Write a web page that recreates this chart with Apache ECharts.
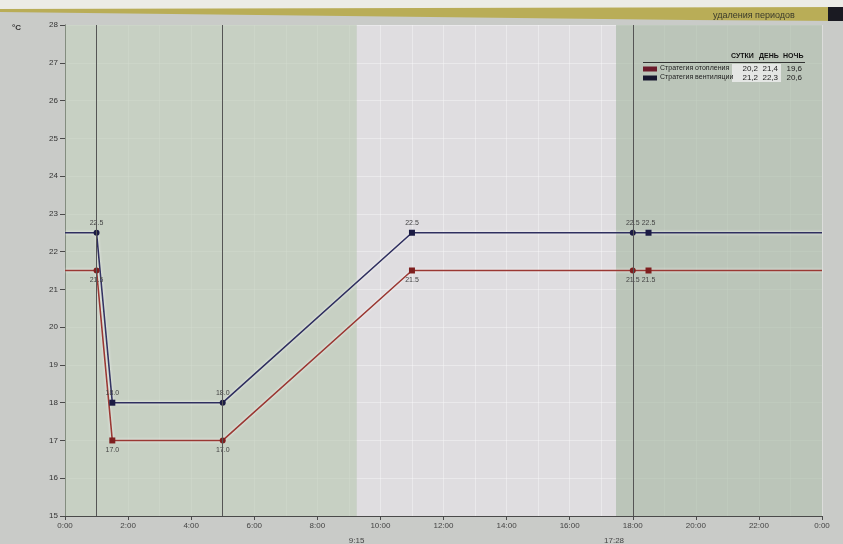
<!DOCTYPE html>
<html>
<head>
<meta charset="utf-8">
<script src="https://cdn.jsdelivr.net/npm/echarts@6/dist/echarts.min.js"></script>
<style>
html,body{margin:0;padding:0;background:#c9cbc8;}
#chart{width:843px;height:544px;}
</style>
</head>
<body>
<div id="chart"></div>
<script>
// ---- data ----
var hours = [0, 1, 1.5, 5, 11, 18, 18.5, 24];
var heating = [21.5, 21.5, 17.0, 17.0, 21.5, 21.5, 21.5, 21.5];
var ventilation = [22.5, 22.5, 18.0, 18.0, 22.5, 22.5, 22.5, 22.5];
var pointSymbols = ['none', 'circle', 'rect', 'circle', 'rect', 'circle', 'rect', 'none'];
var dayBand = [0, 9.25];
var eveningBand = [17.47, 24];
var markerHours = [1, 5, 18];
var legendHeaders = ['СУТКИ', 'ДЕНЬ', 'НОЧЬ'];
var legendNames = ['Стратегия отопления', 'Стратегия вентиляции'];
var heatingStats = ['20,2', '21,4', '19,6'];
var ventStats = ['21,2', '22,3', '20,6'];
var bandLabels = ['9:15', '17:28'];

var RED = '#9a3833', BLUE = '#2f2f5f';
var FONT = 'Liberation Sans, Arial, sans-serif';

function mkData(vals) {
  return hours.map(function (h, i) {
    return {
      value: [h, vals[i]],
      symbol: pointSymbols[i],
      label: { show: pointSymbols[i] !== 'none' }
    };
  });
}

var chart = echarts.init(document.getElementById('chart'));

var grid = { left: 65, right: 21, top: 25, bottom: 28 };
var plotW = 843 - grid.left - grid.right;
function xPix(h) { return grid.left + plotW * h / 24; }

var graphics = [
  { type: 'rect', shape: { x: 0, y: 0, width: 843, height: 10 }, style: { fill: '#ecece6' } },
  { type: 'polygon', shape: { points: [[0, 9], [843, 7], [843, 21], [690, 20], [0, 12]] }, style: { fill: '#b9ad57' } },
  { type: 'text', left: 713, top: 11, style: { text: 'удаления периодов', fill: '#3a3a2a', font: '9px ' + FONT } },
  { type: 'rect', shape: { x: 828, y: 7, width: 15, height: 14 }, style: { fill: '#1a1a22' } },
  { type: 'text', left: 12, top: 24, style: { text: '°C', fill: '#333', font: 'bold 8px ' + FONT } },
  // legend table
  { type: 'line', shape: { x1: 643, y1: 62.5, x2: 805, y2: 62.5 }, style: { stroke: '#333', lineWidth: 1 } },
  { type: 'rect', shape: { x: 732, y: 64, width: 49, height: 18 }, style: { fill: '#e4e6e4' } }
];
var headX = [731, 759, 783];
legendHeaders.forEach(function (h, i) {
  graphics.push({ type: 'text', x: headX[i], y: 53, style: { text: h, fill: '#111', font: 'bold 7px ' + FONT } });
});
var colX = [758, 778, 802];
[heatingStats, ventStats].forEach(function (row, r) {
  var y = 65 + r * 9;
  graphics.push({ type: 'rect', shape: { x: 643, y: y + 1.5, width: 14, height: 5 }, style: { fill: r === 0 ? '#6b1b2b' : '#16162e' } });
  graphics.push({ type: 'text', x: 660, y: y, style: { text: legendNames[r], fill: '#222', font: '7px ' + FONT } });
  row.forEach(function (v, i) {
    graphics.push({ type: 'text', x: colX[i], y: y, style: { text: v, fill: '#222', font: '8px ' + FONT, textAlign: 'right' } });
  });
});
graphics.push({ type: 'text', x: xPix(9.25) - 8, y: 537, style: { text: bandLabels[0], fill: '#444', font: '8px ' + FONT } });
graphics.push({ type: 'text', x: xPix(17.47) - 12, y: 537, style: { text: bandLabels[1], fill: '#444', font: '8px ' + FONT } });
graphics.forEach(function (g) { g.z = 100; });

var option = {
  animation: false,
  backgroundColor: '#c9cbc8',
  grid: Object.assign({ show: true, backgroundColor: '#dfdde0', borderWidth: 0 }, grid),
  xAxis: {
    type: 'value', min: 0, max: 24, interval: 2,
    axisLine: { show: true, lineStyle: { color: '#4a4a4a', width: 1 } },
    axisTick: { show: true, length: 4, lineStyle: { color: '#4a4a4a' } },
    axisLabel: { color: '#444', fontSize: 8, fontFamily: FONT, margin: 6,
      formatter: function (v) { return (v % 24) + ':00'; } },
    splitLine: { show: true, lineStyle: { color: 'rgba(255,255,255,0.35)', width: 1 } },
    minorTick: { show: false, splitNumber: 2 },
    minorSplitLine: { show: true, lineStyle: { color: 'rgba(255,255,255,0.35)', width: 1 } }
  },
  yAxis: {
    type: 'value', min: 15, max: 28, interval: 1,
    axisLine: { show: true, lineStyle: { color: '#4a4a4a', width: 1 } },
    axisTick: { show: true, length: 5, lineStyle: { color: '#4a4a4a' } },
    axisLabel: { color: '#333', fontSize: 8, fontFamily: FONT, margin: 7 },
    splitLine: { show: true, lineStyle: { color: 'rgba(255,255,255,0.35)', width: 1 } }
  },
  graphic: graphics,
  series: [
    {
      type: 'line', name: 'bands', data: [], silent: true,
      markArea: {
        silent: true,
        data: [
          [{ xAxis: dayBand[0], itemStyle: { color: 'rgba(178,196,172,0.55)' } }, { xAxis: dayBand[1] }],
          [{ xAxis: eveningBand[0], itemStyle: { color: 'rgba(165,182,162,0.62)' } }, { xAxis: eveningBand[1] }]
        ]
      },
      markLine: {
        silent: true, symbol: 'none', label: { show: false },
        lineStyle: { color: '#555', width: 1, type: 'solid' },
        data: markerHours.map(function (h) { return { xAxis: h }; })
      }
    },
    {
      type: 'line', name: legendNames[1], data: mkData(ventilation),
      symbolSize: 6,
      lineStyle: { color: BLUE, width: 1.6, shadowColor: 'rgba(255,255,255,0.9)', shadowBlur: 3 },
      itemStyle: { color: '#1b1b44' },
      label: { position: 'top', distance: 3, color: '#444', fontSize: 7, fontFamily: FONT,
        formatter: function (p) { return p.value[1].toFixed(1); } },
      z: 3
    },
    {
      type: 'line', name: legendNames[0], data: mkData(heating),
      symbolSize: 6,
      lineStyle: { color: RED, width: 1.6, shadowColor: 'rgba(255,255,255,0.9)', shadowBlur: 3 },
      itemStyle: { color: '#7e1f1f' },
      label: { position: 'bottom', distance: 3, color: '#444', fontSize: 7, fontFamily: FONT,
        formatter: function (p) { return p.value[1].toFixed(1); } },
      z: 3
    }
  ]
};
chart.setOption(option);
</script>
</body>
</html>
